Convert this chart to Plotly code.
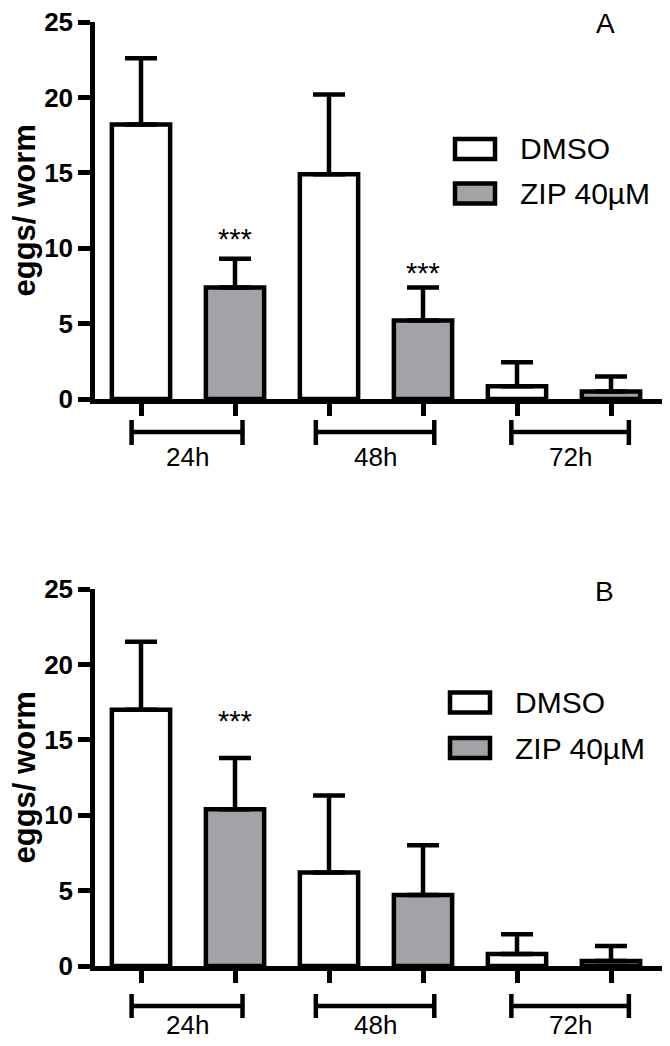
import plotly.graph_objects as go

# ---------------- data ----------------
groups = ["24h", "48h", "72h"]
series_names = ["DMSO", "ZIP 40µM"]

a_dmso = [18.2, 14.9, 0.84]
a_dmso_err = [4.4, 5.3, 1.6]
a_zip = [7.4, 5.2, 0.5]
a_zip_err = [1.9, 2.2, 1.0]

b_dmso = [17.0, 6.2, 0.8]
b_dmso_err = [4.5, 5.1, 1.3]
b_zip = [10.4, 4.7, 0.33]
b_zip_err = [3.4, 3.3, 1.0]

# significance markers: (group index, series index, y level)
a_sig = [(0, 1, 11.1), (1, 1, 8.8)]
b_sig = [(0, 1, 16.7)]

y_ticks = [0, 5, 10, 15, 20, 25]
panel_labels = ["A", "B"]
y_title = "eggs/ worm"

# ---------------- style / layout constants ----------------
PAGE_OFF = 8                      # default body margin of the html page
W, H = 670 - PAGE_OFF, 1046 - PAGE_OFF
LW = 4.5
FONT = "Liberation Sans, Arial, sans-serif"
GREY = "#a3a3a7"
fills = ["white", GREY]
PX_PER_UNIT = 94.0
FIRST_BAR_PX = 141.0
X_LEFT_PX, X_RIGHT_PX = 95.0, 662.0
BAR_W = 0.62

panels = [
    dict(top=22, bottom=399, bracket=432, cap=(420, 445), label=457,
         legend_boxes=[(139, 159), (183.5, 203.5)], legend_box_x=(455, 495),
         legend_text_x=518, legend_text_y=[148, 194], letter=(605, 23)),
    dict(top=589, bottom=966, bracket=1006, cap=(994, 1018), label=1025,
         legend_boxes=[(692.5, 712.5), (738, 758)], legend_box_x=(450, 490),
         legend_text_x=513, legend_text_y=[702, 748], letter=(604, 591)),
]
bracket_ext = [(-0.1, 0.08), (-0.14, 0.12), (-0.06, 0.19)]


def px_x(px):
    return (px - PAGE_OFF) / W


def px_y(px):
    return 1 - (px - PAGE_OFF) / H


x_range = [(X_LEFT_PX - FIRST_BAR_PX) / PX_PER_UNIT, (X_RIGHT_PX - FIRST_BAR_PX) / PX_PER_UNIT]

fig = go.Figure()

data_sets = [
    ([a_dmso, a_zip], [a_dmso_err, a_zip_err], a_sig),
    ([b_dmso, b_zip], [b_dmso_err, b_zip_err], b_sig),
]

shapes = []
annotations = []
n_series = len(series_names)

for p, (vals, errs, sigs) in enumerate(data_sets):
    xa = "x" if p == 0 else "x2"
    ya = "y" if p == 0 else "y2"
    for s in range(n_series):
        xs = [g * n_series + s for g in range(len(groups))]
        fig.add_trace(go.Bar(
            x=xs, y=vals[s], name=series_names[s], width=BAR_W,
            marker=dict(color=fills[s], line=dict(color="black", width=LW)),
            error_y=dict(type="data", array=errs[s], arrayminus=[0] * len(groups),
                         symmetric=False, thickness=LW, width=16, color="black"),
            xaxis=xa, yaxis=ya, showlegend=False, cliponaxis=False,
        ))
    cfg = panels[p]
    # significance stars
    for g, s, yv in sigs:
        annotations.append(dict(x=g * n_series + s, y=yv, xref=xa, yref=ya, text="***",
                                showarrow=False, font=dict(family=FONT, size=29, color="black"),
                                xanchor="center", yanchor="middle", yshift=-7))
    # group brackets and labels
    for g, name in enumerate(groups):
        x0 = g * n_series + bracket_ext[g][0]
        x1 = g * n_series + (n_series - 1) + bracket_ext[g][1]
        yb = px_y(cfg["bracket"])
        c0, c1 = px_y(cfg["cap"][0]), px_y(cfg["cap"][1])
        for (sx0, sx1, sy0, sy1) in [(x0, x1, yb, yb), (x0, x0, c0, c1), (x1, x1, c0, c1)]:
            shapes.append(dict(type="line", xref=xa, yref="paper", x0=sx0, x1=sx1,
                               y0=sy0, y1=sy1, line=dict(color="black", width=LW)))
        annotations.append(dict(x=(x0 + x1) / 2, y=px_y(cfg["label"]), xref=xa, yref="paper",
                                text=name, showarrow=False, xanchor="center", yanchor="middle",
                                font=dict(family=FONT, size=26, color="black")))
    # legend (drawn)
    for s in range(n_series):
        yb0, yb1 = cfg["legend_boxes"][s]
        shapes.append(dict(type="rect", xref="paper", yref="paper",
                           x0=px_x(cfg["legend_box_x"][0]), x1=px_x(cfg["legend_box_x"][1]),
                           y0=px_y(yb1), y1=px_y(yb0), fillcolor=fills[s],
                           line=dict(color="black", width=LW)))
        annotations.append(dict(x=px_x(cfg["legend_text_x"]), y=px_y(cfg["legend_text_y"][s]),
                                xref="paper", yref="paper", text=series_names[s],
                                showarrow=False, xanchor="left", yanchor="middle",
                                font=dict(family=FONT, size=30, color="black")))
    # panel letter
    annotations.append(dict(x=px_x(cfg["letter"][0]), y=px_y(cfg["letter"][1]), xref="paper",
                            yref="paper", text=panel_labels[p], showarrow=False,
                            xanchor="center", yanchor="middle",
                            font=dict(family=FONT, size=28, color="black")))
    # y title
    annotations.append(dict(x=px_x(24), y=px_y((cfg["top"] + cfg["bottom"]) / 2), xref="paper",
                            yref="paper", text="<b>" + y_title + "</b>", textangle=-90,
                            showarrow=False, xanchor="center", yanchor="middle",
                            font=dict(family=FONT, size=31, color="black")))

xaxis_common = dict(range=x_range, showgrid=False, zeroline=False, showline=True,
                    linecolor="black", linewidth=LW, ticks="outside", ticklen=12,
                    tickwidth=LW, tickcolor="black", automargin=False,
                    tickvals=list(range(len(groups) * n_series)), showticklabels=False,
                    domain=[px_x(X_LEFT_PX), px_x(X_RIGHT_PX)])
yaxis_common = dict(range=[0, 25], showgrid=False, zeroline=False, showline=True,
                    linecolor="black", linewidth=LW, ticks="outside", ticklen=12,
                    tickwidth=LW, tickcolor="black", tickvals=y_ticks, automargin=False,
                    ticklabeloverflow="allow",
                    tickfont=dict(family=FONT, size=26, color="black", weight="bold"))

fig.update_layout(
    width=W, height=H, margin=dict(l=0, r=0, t=0, b=0, autoexpand=False),
    paper_bgcolor="white", plot_bgcolor="white",
    barmode="overlay", showlegend=False,
    xaxis=dict(**xaxis_common, anchor="y"),
    yaxis=dict(**yaxis_common, anchor="x",
               domain=[px_y(panels[0]["bottom"]), px_y(panels[0]["top"])]),
    xaxis2=dict(**xaxis_common, anchor="y2"),
    yaxis2=dict(**yaxis_common, anchor="x2",
                domain=[px_y(panels[1]["bottom"]), px_y(panels[1]["top"])]),
    shapes=shapes, annotations=annotations,
    font=dict(family=FONT, color="black"),
)

fig.write_html("out.html")
